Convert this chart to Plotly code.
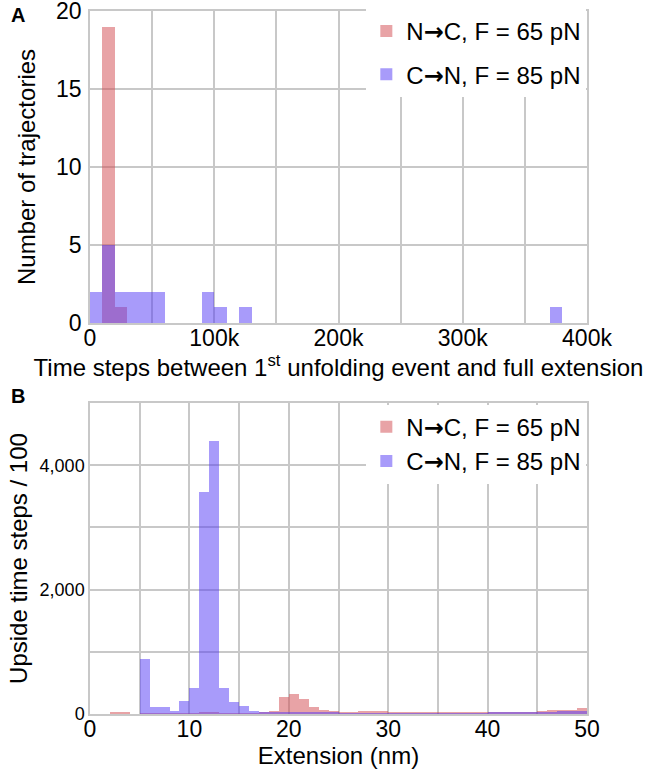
import plotly.graph_objects as go
from plotly.subplots import make_subplots

# ---------------- Panel A data (bins of 10k time steps) ----------------
a_bin_width = 10000
nc_a_starts = [10000, 20000]
nc_a_counts = [19, 1]
cn_a_starts = [0, 10000, 20000, 30000, 40000, 50000, 90000, 100000, 120000, 370000]
cn_a_counts = [2, 5, 2, 2, 2, 2, 2, 1, 1, 1]
a_tickvals = [0, 100000, 200000, 300000, 400000]
a_ticktext = ["0", "100k", "200k", "300k", "400k"]

# ---------------- Panel B data (bins of 1 nm) ----------------
b_bin_width = 1
b_starts = [2, 3, 4, 5, 6, 7, 8, 9, 10, 11, 12, 13, 14, 15, 16, 17, 18, 19, 20, 21,
            22, 23, 24, 25, 26, 27, 28, 29, 30, 31, 32, 33, 34, 35, 36, 37, 38, 39,
            40, 41, 42, 43, 44, 45, 46, 47, 48, 49]
nc_b = [27, 27, 8, 15, 15, 18, 20, 20, 22, 25, 25, 22, 20, 18, 15, 25, 55, 280, 325, 245,
        115, 65, 48, 38, 30, 42, 48, 42, 30, 28, 25, 25, 30, 25, 25, 25, 25, 28,
        25, 25, 25, 30, 35, 45, 60, 65, 65, 95]
cn_b = [0, 0, 0, 890, 110, 120, 55, 210, 425, 3575, 4390, 415, 200, 130, 50, 25, 25, 25, 25, 25,
        25, 25, 25, 22, 20, 20, 20, 20, 20, 20, 20, 20, 20, 20, 20, 20, 20, 22,
        25, 28, 35, 35, 35, 30, 35, 45, 45, 45]

arrow = '<span style="font-family:DejaVu Sans;font-weight:bold">→</span>'
label_nc = "N" + arrow + "C, F = 65 pN"
label_cn = "C" + arrow + "N, F = 85 pN"
red = "rgba(209,71,77,0.5)"
blue = "rgba(81,55,245,0.5)"
grid = "#c8c8c8"
font = "Liberation Sans, Arial, Helvetica, sans-serif"

fig = make_subplots(rows=2, cols=1)

def centers(starts, w):
    return [s + w / 2 for s in starts]

fig.add_trace(go.Bar(x=centers(nc_a_starts, a_bin_width), y=nc_a_counts, width=a_bin_width,
                     marker=dict(color=red, line=dict(width=0)), name=label_nc,
                     legend="legend", legendgroup="a1"), row=1, col=1)
fig.add_trace(go.Bar(x=centers(cn_a_starts, a_bin_width), y=cn_a_counts, width=a_bin_width,
                     marker=dict(color=blue, line=dict(width=0)), name=label_cn,
                     legend="legend", legendgroup="a2"), row=1, col=1)
fig.add_trace(go.Bar(x=centers(b_starts, b_bin_width), y=nc_b, width=b_bin_width,
                     marker=dict(color=red, line=dict(width=0)), name=label_nc,
                     legend="legend2", legendgroup="b1"), row=2, col=1)
fig.add_trace(go.Bar(x=centers(b_starts, b_bin_width), y=cn_b, width=b_bin_width,
                     marker=dict(color=blue, line=dict(width=0)), name=label_cn,
                     legend="legend2", legendgroup="b2"), row=2, col=1)

axis_common = dict(showgrid=True, gridcolor=grid, gridwidth=1.5, zeroline=False,
                   showline=True, mirror=True, linecolor=grid, linewidth=1.5,
                   automargin=False, ticklabeloverflow="allow",
                   ticks="", tickfont=dict(family=font, size=23, color="black"),
                   title_font=dict(family=font, size=24, color="black"))

fig.update_xaxes(**axis_common, row=1, col=1, domain=[0, 1], range=[0, 400000],
                 tickvals=a_tickvals, ticktext=a_ticktext, ticklabelstandoff=-6,
                 minor=dict(dtick=50000, tick0=0, showgrid=True, gridcolor=grid, gridwidth=1.5),
                 title_text="Time steps between 1<sup>st</sup> unfolding event and full extension",
                 title_standoff=2)
fig.update_yaxes(**axis_common, row=1, col=1, domain=[0.5562, 1], range=[0, 20],
                 tickvals=[0, 5, 10, 15, 20], ticklabelstandoff=2,
                 title_text="Number of trajectories", title_standoff=14)
fig.update_xaxes(**axis_common, row=2, col=1, range=[0, 50],
                 tickvals=[0, 10, 20, 30, 40, 50], ticklabelstandoff=-6,
                 minor=dict(dtick=5, tick0=0, showgrid=True, gridcolor=grid, gridwidth=1.5),
                 title_text="Extension (nm)", title_standoff=2)
fig.update_yaxes(**axis_common, row=2, col=1, domain=[0, 0.4424], range=[0, 5000],
                 tickvals=[0, 2000, 4000], tickformat=",",
                 minor=dict(dtick=1000, tick0=0, showgrid=True, gridcolor=grid, gridwidth=1.5),
                 title_text="Upside time steps / 100", title_standoff=5)
fig.update_yaxes(tickfont=dict(family=font, size=18, color="black"), row=2, col=1)

legend_common = dict(bgcolor="white", borderwidth=0, xanchor="left", yanchor="top",
                     traceorder="grouped",
                     font=dict(family=font, size=24, color="black"))
fig.update_layout(
    width=660, height=772,
    margin=dict(l=90, r=73, t=11, b=58, autoexpand=False),
    paper_bgcolor="white", plot_bgcolor="white",
    barmode="overlay", bargap=0,
    legend=dict(**legend_common, x=0.556, y=1.003, tracegroupgap=9),
    legend2=dict(**legend_common, x=0.556, y=0.44, tracegroupgap=0),
    annotations=[
        dict(text="<b>A</b>", xref="paper", yref="paper", x=-0.162, y=1.0, xanchor="left",
             yanchor="top", showarrow=False, font=dict(family=font, size=20, color="black"),
             yshift=9),
        dict(text="<b>B</b>", xref="paper", yref="paper", x=-0.162, y=0.4424, xanchor="left",
             yanchor="top", showarrow=False, font=dict(family=font, size=20, color="black"),
             yshift=20),
    ],
)

fig.write_html("out.html", config={"displayModeBar": False},
               post_script="document.body.style.margin='0px';")
